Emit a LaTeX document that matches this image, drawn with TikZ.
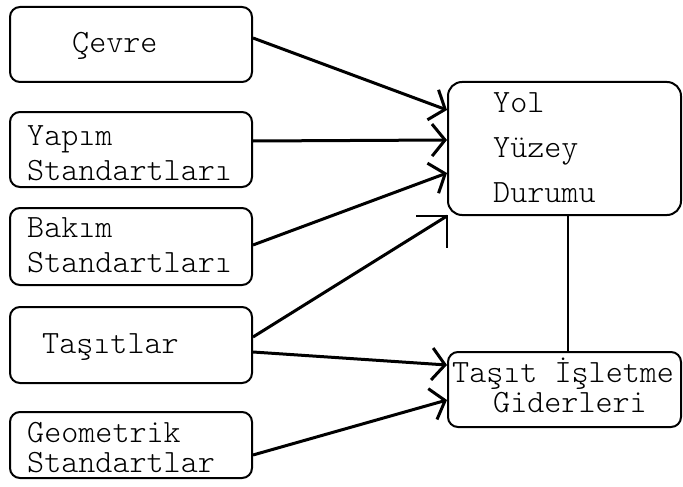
\documentclass[tikz,border=0pt]{standalone}
\usepackage{fontspec}
\newfontfamily\lmlight{lmmonolt10-regular.otf}
\usetikzlibrary{arrows.meta}
\begin{document}
\begin{tikzpicture}[x=1pt,y=-1pt,
  box/.style={draw, line width=2pt, rounded corners=10pt, inner sep=0pt},
  lbl/.style={font=\lmlight\fontsize{32.5}{38}\selectfont, inner sep=0pt, anchor=base west},
  conn/.style={line width=3pt, -{Straight Barb[length=13pt,width=32pt]}},
  plain/.style={line width=2.5pt}]
\useasboundingbox (0,0) rectangle (683,487);
% boxes
\node[box, minimum width=242pt, minimum height=75pt] (cevre) at (131,44.5) {};
\node[box, minimum width=242pt, minimum height=75pt] (yapim) at (131,149.5) {};
\node[box, minimum width=242pt, minimum height=77pt] (bakim) at (131,246.5) {};
\node[box, minimum width=242pt, minimum height=76pt] (tasit) at (131,345) {};
\node[box, minimum width=242pt, minimum height=66pt] (geo) at (131,445) {};
\node[box, rounded corners=14pt, minimum width=233pt, minimum height=133pt] (yol) at (564.5,148.5) {};
\node[box, minimum width=233pt, minimum height=75pt] (isl) at (564.5,389.5) {};
% texts
\node[lbl] (cevre-t) at (72,53) {Çevre};
\node[lbl] (yapim-t1) at (27,145) {Yapım};
\node[lbl] (yapim-t2) at (27,180) {Standartları};
\node[lbl] (bakim-t1) at (27,237) {Bakım};
\node[lbl] (bakim-t2) at (27,272) {Standartları};
\node[lbl] (tasit-t) at (42,353) {Taşıtlar};
\node[lbl] (geo-t1) at (27,442) {Geometrik};
\node[lbl] (geo-t2) at (27,472) {Standartlar};
\node[lbl] (yol-t1) at (493,112) {Yol};
\node[lbl] (yol-t2) at (493,157) {Yüzey};
\node[lbl] (yol-t3) at (493,202) {Durumu};
\node[lbl] (isl-t1) at (452,382) {Taşıt İşletme};
\node[lbl] (isl-t2) at (493,412) {Giderleri};
% connectors
\draw[conn] ([yshift=6.5pt]cevre.east) -- ([yshift=38.5pt]yol.west);
\draw[conn] ([yshift=8.5pt]yapim.east) -- ([yshift=8.5pt]yol.west);
\draw[conn] ([yshift=1.5pt]bakim.east) -- ([yshift=-24.5pt]yol.west);
\draw[line width=3pt] ([yshift=8pt]tasit.east) -- (yol.south west);
\draw[plain] ([xshift=-31pt]yol.south west) -- (yol.south west) -- ([yshift=-32pt]yol.south west);
\draw[conn] ([yshift=-7pt]tasit.east) -- ([yshift=24.5pt]isl.west);
\draw[conn] ([yshift=-10pt]geo.east) -- ([yshift=-10.5pt]isl.west);
\draw[plain] ([xshift=3.5pt]yol.south) -- ([xshift=3.5pt]isl.north);
\end{tikzpicture}
\end{document}
